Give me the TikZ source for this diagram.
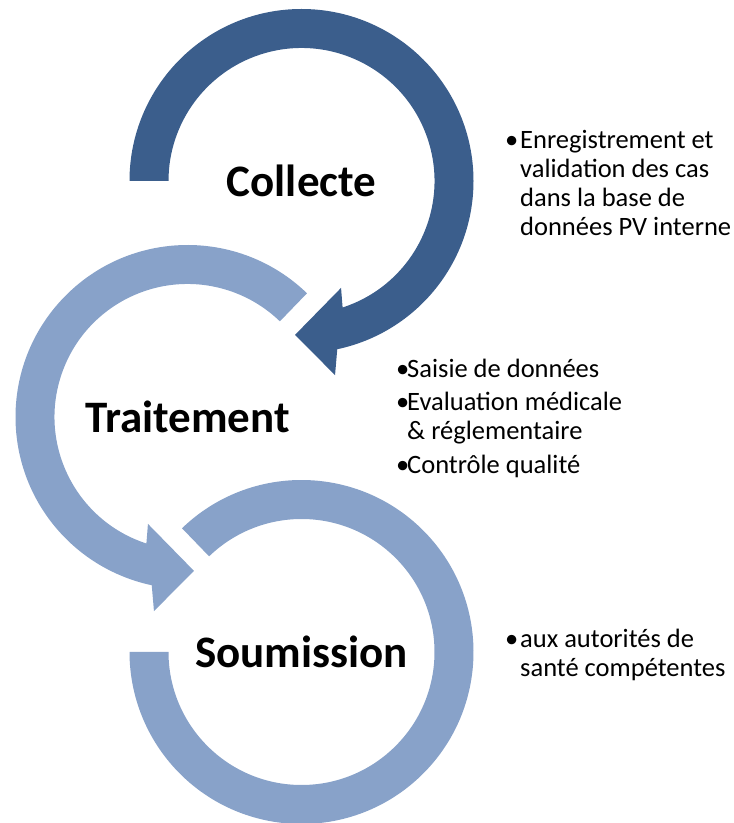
\documentclass[tikz,border=0pt]{standalone}
\usepackage{fontspec}
\setmainfont{Carlito}
\usepackage{tikz}
\usetikzlibrary{positioning}
\usetikzlibrary{calc}
\definecolor{darkarc}{HTML}{3B5E8C}
\definecolor{lightarc}{HTML}{88A2C9}
\tikzstyle{title}=[font=\fontsize{45}{54}\selectfont\bfseries,inner sep=0pt]
\tikzstyle{bullets}=[font=\fontsize{26.5}{29}\selectfont,align=left,anchor=north west,inner sep=0pt]
\newcommand{\bul}[1]{\makebox[#1][l]{\textbullet}}

\begin{document}
\begin{tikzpicture}[x=1pt,y=1pt]

	\useasboundingbox (0,0) rectangle (734,823);

	\coordinate (c1) at (301.5,642);
	\coordinate (c2) at (187.5,406);
	\coordinate (c3) at (301.5,171);

	% bottom ring, no head
	\begin{scope}[shift={(c3)}]
		\fill[lightarc] (134:172) arc[start angle=134,end angle=-180,radius=172]
			-- (-180:133) arc[start angle=-180,end angle=134,radius=133] -- cycle;
	\end{scope}
	% middle ring
	\begin{scope}[shift={(c2)}]
		\fill[lightarc] (46:172) arc[start angle=46,end angle=258,radius=172]
			-- (260.2:197) -- (272.4:154) -- (249.7:114) -- (252:133)
			arc[start angle=252,end angle=46,radius=133] -- cycle;
	\end{scope}
	% top ring
	\begin{scope}[shift={(c1)}]
		\fill[darkarc] (180:172) arc[start angle=180,end angle=-78,radius=172]
			-- (-80.2:197) -- (-92.4:154) -- (-69.7:114) -- (-72:133)
			arc[start angle=-72,end angle=180,radius=133] -- cycle;
	\end{scope}

	\node (collecte) [title] at (c1) {Collecte};
	\node (traitement) [title] at (c2) {Traitement};
	\node (soumission) [title] at (c3) {Soumission};

	\node (collecteinfo) [bullets] at (505,695.3)
		{\strut\bul{15pt}Enregistrement et\\ \hspace*{15pt}validation des cas\\ \hspace*{15pt}dans la base de\\ \hspace*{15pt}données PV interne};
	\node (traitementinfo) [bullets] at (396,466.3)
		{\strut\bul{11pt}Saisie de données\\[4pt] \bul{11pt}Evaluation médicale\\ \hspace*{11pt}\& réglementaire\\[5pt] \bul{11pt}Contrôle qualité};
	\node (soumissioninfo) [bullets] at (505,196.3)
		{\strut\bul{15pt}aux autorités de\\ \hspace*{15pt}santé compétentes};
\end{tikzpicture}
\end{document}
